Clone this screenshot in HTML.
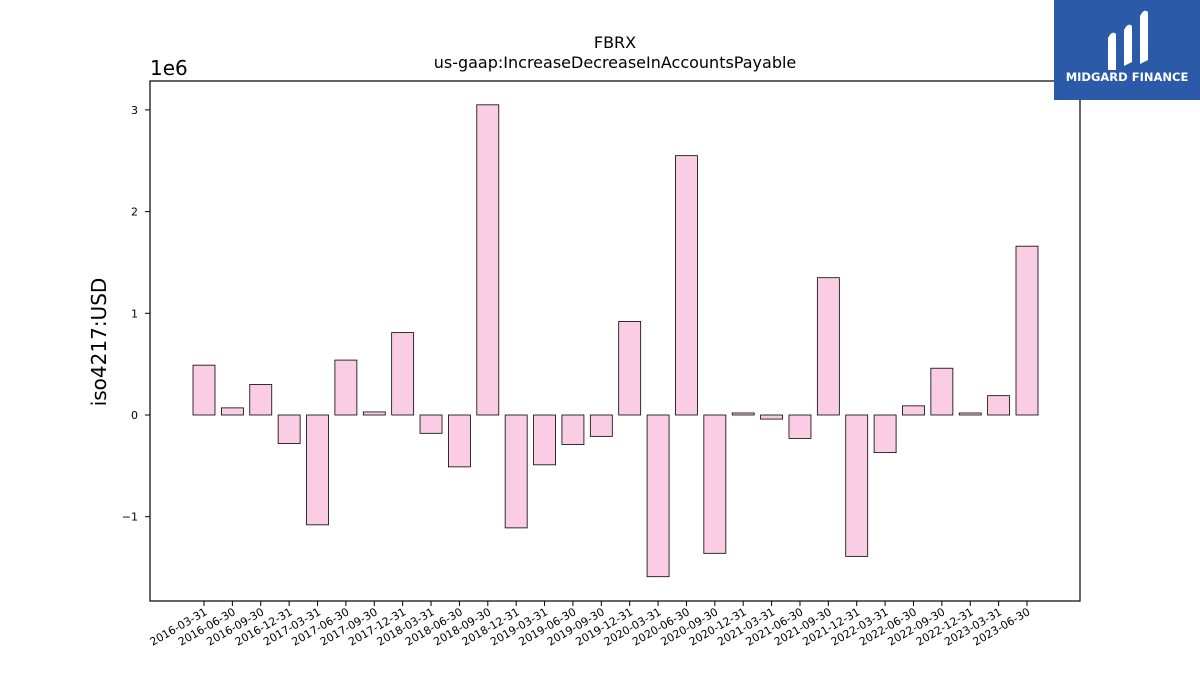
<!DOCTYPE html>
<html><head><meta charset="utf-8"><style>
body{margin:0;background:#fff;font-family:"Liberation Sans","DejaVu Sans",sans-serif}
</style></head><body>
<svg width="1200" height="675" xmlns="http://www.w3.org/2000/svg" font-family="DejaVu Sans, Liberation Sans, sans-serif">
<rect width="1200" height="675" fill="#fff"/>
<text x="615" y="48" font-size="16" text-anchor="middle">FBRX</text>
<text x="615" y="68" font-size="16" text-anchor="middle">us-gaap:IncreaseDecreaseInAccountsPayable</text>
<text x="150" y="75" font-size="20">1e6</text>
<text x="0" y="0" font-size="20" text-anchor="middle" transform="translate(106,342) rotate(-90)">iso4217:USD</text>
<g id="bars"></g><g id="yticks"></g><g id="xticks"></g>
<rect x="150" y="81" width="930" height="520" fill="none" stroke="#000" stroke-width="1.2"/>
<g>
<rect x="1054" y="0" width="146" height="100" fill="#2b5aa8"/>
<path d="M1108 70 L1108 38 Q1112 30 1116 34 L1116 70 Z M1124 66 L1124 30 Q1128 22 1132 26 L1132 62 Z M1140 64 L1140 16 Q1144 8 1148 12 L1148 60 Z" fill="#fff"/>
<text x="1127" y="81" font-size="11.5" font-weight="bold" fill="#fff" text-anchor="middle">MIDGARD FINANCE</text>
</g>
</svg>
<script>
const categories=["2016-03-31","2016-06-30","2016-09-30","2016-12-31","2017-03-31","2017-06-30","2017-09-30","2017-12-31","2018-03-31","2018-06-30","2018-09-30","2018-12-31","2019-03-31","2019-06-30","2019-09-30","2019-12-31","2020-03-31","2020-06-30","2020-09-30","2020-12-31","2021-03-31","2021-06-30","2021-09-30","2021-12-31","2022-03-31","2022-06-30","2022-09-30","2022-12-31","2023-03-31","2023-06-30"];
const values=[0.49,0.07,0.30,-0.28,-1.08,0.54,0.03,0.81,-0.18,-0.51,3.05,-1.11,-0.49,-0.29,-0.21,0.92,-1.59,2.55,-1.36,0.02,-0.04,-0.23,1.35,-1.39,-0.37,0.09,0.46,0.02,0.19,1.66];
const yTicks=[-1,0,1,2,3];
const yTickLabels=["\u22121","0","1","2","3"];
const NS="http://www.w3.org/2000/svg";
const y=v=>415-v*101.7;
const x=i=>204+i*(1027-204)/(categories.length-1);
const bw=22;
const bars=document.getElementById('bars'),yt=document.getElementById('yticks'),xt=document.getElementById('xticks');
values.forEach((v,i)=>{
 const r=document.createElementNS(NS,'rect');
 
 
 r.setAttribute('x',x(i)-bw/2);r.setAttribute('width',bw);
 r.setAttribute('y',Math.min(y(v),y(0)));r.setAttribute('height',Math.max(Math.abs(y(v)-y(0)),0.8));
 r.setAttribute('fill','#fbcde4');r.setAttribute('stroke','#000');r.setAttribute('stroke-width','0.8');
 bars.appendChild(r);
});
yTicks.forEach((t,i)=>{
 const l=document.createElementNS(NS,'line');
 
 
 l.setAttribute('x1',145);l.setAttribute('x2',150);l.setAttribute('y1',y(t));l.setAttribute('y2',y(t));l.setAttribute('stroke','#000');
 yt.appendChild(l);
 const tx=document.createElementNS(NS,'text');
 
 
 tx.setAttribute('x',138);tx.setAttribute('y',y(t)+4);tx.setAttribute('font-size','11');tx.setAttribute('text-anchor','end');
 tx.textContent=yTickLabels[i];yt.appendChild(tx);
});
categories.forEach((c,i)=>{
 const l=document.createElementNS(NS,'line');
 
 
 l.setAttribute('x1',x(i));l.setAttribute('x2',x(i));l.setAttribute('y1',601);l.setAttribute('y2',606);l.setAttribute('stroke','#000');
 xt.appendChild(l);
 const tx=document.createElementNS(NS,'text');
 
 
 tx.setAttribute('font-size','11');tx.setAttribute('text-anchor','end');
 tx.setAttribute('transform','translate('+(x(i)+4)+',614) rotate(-30)');
 tx.textContent=c;xt.appendChild(tx);
});
</script>
</body></html>
